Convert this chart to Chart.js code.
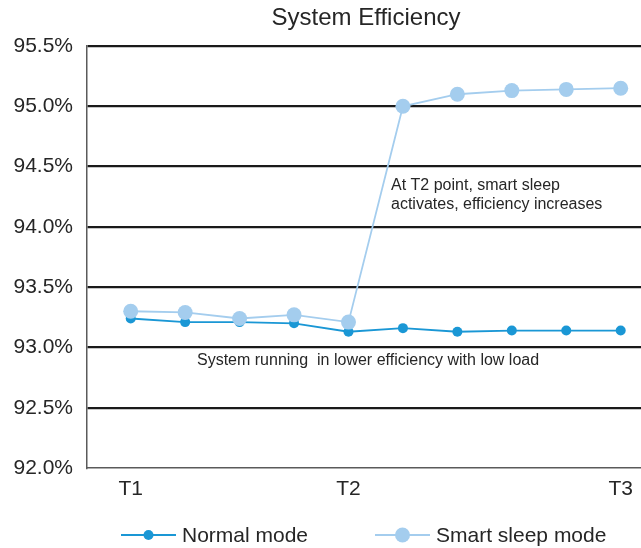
<!DOCTYPE html>
<html>
<head>
<meta charset="utf-8">
<script src="https://cdn.jsdelivr.net/npm/chart.js@4/dist/chart.umd.min.js"></script>
<style>
  html, body { margin: 0; padding: 0; background: #fff; }
  #wrap { width: 641px; height: 548px; position: relative; }
</style>
</head>
<body>
<div id="wrap"><canvas id="effChart"></canvas></div>
<script>
// sample index along the time axis, T1 .. T3
const samples = [0, 1, 2, 3, 4, 5, 6, 7, 8, 9];
const tickPositions = [0, 4, 9];
const tickLabels = ['T1', 'T2', 'T3'];

const normalMode = [93.24, 93.21, 93.21, 93.20, 93.13, 93.16, 93.13, 93.14, 93.14, 93.14];
const smartSleepMode = [93.30, 93.29, 93.24, 93.27, 93.21, 95.00, 95.10, 95.13, 95.14, 95.15];

const normalColor = '#1a97d5';
const sleepColor = '#a4cdee';
const textColor = '#262626';
const FONT = '"Liberation Sans", Arial, sans-serif';

function toPoints(vals) {
    return samples.map((s, i) => ({ x: s, y: vals[i] }));
}

// no extra room for overhanging tick labels, layout padding handles it
function noPad(scale) {
    scale.paddingLeft = 0;
    scale.paddingRight = 0;
    scale.paddingTop = 0;
    scale.paddingBottom = 0;
}

// title, notes and legend drawn on top of the chart
const overlay = {
    id: 'overlay',
    afterDraw(chart) {
        const ctx = chart.ctx;
        const area = chart.chartArea;
        ctx.save();
        ctx.fillStyle = textColor;
        ctx.textBaseline = 'middle';

        ctx.font = '24px ' + FONT;
        ctx.textAlign = 'center';
        ctx.fillText('System Efficiency', (area.left + area.right) / 2 + 2, 18);

        ctx.font = '16px ' + FONT;
        ctx.textAlign = 'left';
        ctx.fillText('At T2 point, smart sleep', 391, 186);
        ctx.fillText('activates, efficiency increases', 391, 205);
        ctx.fillText('System running  in lower efficiency with low load', 197, 361);

        // legend
        const items = [
            { x: 121, label: 'Normal mode', color: normalColor, r: 5 },
            { x: 375, label: 'Smart sleep mode', color: sleepColor, r: 7.5 }
        ];
        const ly = 535;
        items.forEach(it => {
            ctx.strokeStyle = it.color;
            ctx.lineWidth = 1.8;
            ctx.beginPath();
            ctx.moveTo(it.x, ly);
            ctx.lineTo(it.x + 55, ly);
            ctx.stroke();
            ctx.fillStyle = it.color;
            ctx.beginPath();
            ctx.arc(it.x + 27.5, ly, it.r, 0, Math.PI * 2);
            ctx.fill();
            ctx.fillStyle = textColor;
            ctx.font = '21px ' + FONT;
            ctx.fillText(it.label, it.x + 61, ly + 1);
        });
        ctx.restore();
    }
};

new Chart(document.getElementById('effChart'), {
    type: 'line',
    data: {
        datasets: [
            {
                label: 'Normal mode',
                data: toPoints(normalMode),
                borderColor: normalColor,
                backgroundColor: normalColor,
                borderWidth: 1.8,
                pointRadius: 5,
                pointBorderWidth: 0,
                tension: 0,
                order: 1
            },
            {
                label: 'Smart sleep mode',
                data: toPoints(smartSleepMode),
                borderColor: sleepColor,
                backgroundColor: sleepColor,
                borderWidth: 1.8,
                pointRadius: 7.5,
                pointBorderWidth: 0,
                tension: 0,
                order: 0
            }
        ]
    },
    options: {
        responsive: true,
        maintainAspectRatio: false,
        animation: false,
        layout: { autoPadding: false, padding: { top: 46, right: 0, bottom: 0, left: 0 } },
        plugins: {
            legend: { display: false },
            title: { display: false },
            tooltip: { enabled: false }
        },
        scales: {
            x: {
                type: 'linear',
                min: -0.803,
                max: 9.373,
                afterBuildTicks: scale => {
                    scale.ticks = tickPositions.map(v => ({ value: v }));
                },
                afterFit: scale => {
                    scale.height = 80;
                    noPad(scale);
                },
                ticks: {
                    autoSkip: false,
                    maxRotation: 0,
                    padding: 9,
                    color: textColor,
                    font: { family: FONT, size: 21 },
                    callback: v => tickLabels[tickPositions.indexOf(v)] || ''
                },
                grid: { display: false, drawTicks: false },
                border: { display: true, color: '#5a5a5a', width: 1.5 }
            },
            y: {
                min: 92,
                max: 95.5,
                afterFit: scale => {
                    scale.width = 87;
                    noPad(scale);
                },
                ticks: {
                    stepSize: 0.5,
                    padding: 14,
                    color: textColor,
                    font: { family: FONT, size: 21 },
                    callback: v => v.toFixed(1) + '%'
                },
                grid: {
                    drawTicks: false,
                    lineWidth: 2.2,
                    color: c => (c.tick && c.tick.value === 92 ? 'rgba(0,0,0,0)' : '#1a1a1a')
                },
                border: { display: true, color: '#5a5a5a', width: 1.5 }
            }
        }
    },
    plugins: [overlay]
});
</script>
</body>
</html>
